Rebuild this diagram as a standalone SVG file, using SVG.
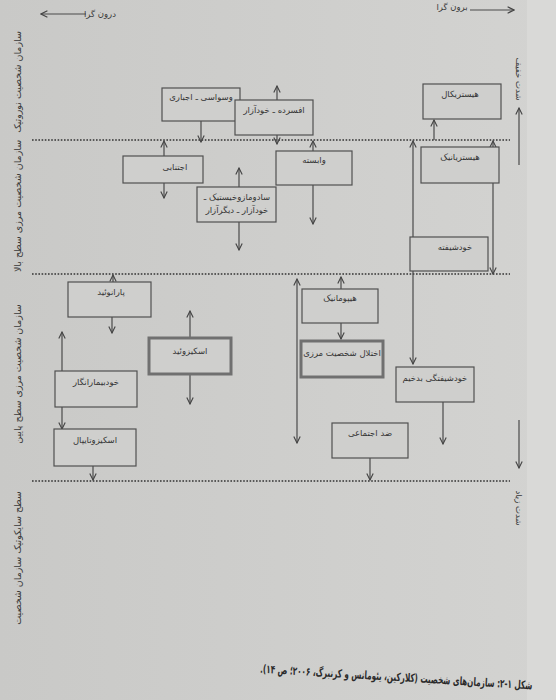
<svg xmlns="http://www.w3.org/2000/svg" width="556" height="700" viewBox="0 0 556 700">
<defs>
<linearGradient id="bg" x1="0" y1="0" x2="1" y2="0">
<stop offset="0" stop-color="#c9c9c7"/>
<stop offset="1" stop-color="#d3d3d1"/>
</linearGradient>
<marker id="ah" viewBox="0 0 10 10" refX="9" refY="5" markerWidth="8" markerHeight="8" markerUnits="userSpaceOnUse" orient="auto-start-reverse">
<path d="M1,1 L9,5 L1,9" fill="none" stroke="#444" stroke-width="1.4"/>
</marker>
<style>
.bx{fill:#cfcfcd;stroke:#505050;stroke-width:1.2}
.thk{fill:#cfcfcd;stroke:#707070;stroke-width:3}
.t{font-family:'DejaVu Sans',sans-serif;font-size:8.5px;fill:#353535;text-anchor:middle}
.lab{font-family:'DejaVu Sans',sans-serif;font-size:8.5px;fill:#3a3a3a;text-anchor:middle}
.vl{font-family:'DejaVu Sans',sans-serif;font-size:9.5px;fill:#3a3a3a;text-anchor:middle}
.ar{stroke:#4a4a4a;stroke-width:1.2;fill:none;marker-end:url(#ah)}
.dot{stroke:#333;stroke-width:1.6;stroke-dasharray:1.6 1.6;fill:none}
</style>
</defs>
<rect x="0" y="0" width="556" height="700" fill="url(#bg)"/>
<rect x="527" y="0" width="29" height="700" fill="#d9d9d7"/>

<g id="levels">
<line class="dot" x1="32" y1="140" x2="510" y2="140"/>
<line class="dot" x1="32" y1="274" x2="510" y2="274"/>
<line class="dot" x1="32" y1="481" x2="510" y2="481"/>
</g>

<g id="side-labels">
<text class="vl" transform="translate(21,82) rotate(-90)">سازمان شخصیت نوروتیک</text>
<text class="vl" transform="translate(21,206) rotate(-90)">سازمان شخصیت مرزی سطح بالا</text>
<text class="vl" transform="translate(21,374) rotate(-90)">سازمان شخصیت مرزی سطح پایین</text>
<text class="vl" transform="translate(21,558) rotate(-90)">سطح سایکوتیک سازمان شخصیت</text>
<text class="lab" transform="translate(516,79) rotate(90)">شدت خفیف</text>
<text class="lab" transform="translate(516,508) rotate(90)">شدت زیاد</text>
<text class="lab" x="100" y="17">درون گرا</text>
<text class="lab" x="452" y="10">برون گرا</text>
</g>

<g id="connectors">
<line class="ar" x1="86" y1="14" x2="41" y2="14"/>
<line class="ar" x1="470" y1="10" x2="514" y2="10"/>
<line class="ar" x1="519" y1="165" x2="519" y2="108"/>
<line class="ar" x1="519" y1="420" x2="519" y2="468"/>
<line class="ar" x1="201" y1="121" x2="201" y2="142"/>
<line class="ar" x1="277" y1="100" x2="277" y2="86"/>
<line class="ar" x1="277" y1="135" x2="277" y2="144"/>
<line class="ar" x1="434" y1="140" x2="434" y2="120"/>
<line class="ar" x1="164" y1="156" x2="164" y2="141"/>
<line class="ar" x1="164" y1="183" x2="164" y2="198"/>
<line class="ar" x1="313" y1="151" x2="313" y2="141"/>
<line class="ar" x1="313" y1="185" x2="313" y2="224"/>
<line class="ar" x1="239" y1="187" x2="239" y2="168"/>
<line class="ar" x1="239" y1="222" x2="239" y2="250"/>
<line class="ar" x1="493" y1="147" x2="493" y2="141"/>
<line class="ar" x1="493" y1="183" x2="493" y2="274"/>
<line class="ar" x1="413" y1="240" x2="413" y2="141"/>
<line class="ar" x1="413" y1="270" x2="413" y2="364"/>
<line class="ar" x1="113" y1="282" x2="113" y2="275"/>
<line class="ar" x1="112" y1="317" x2="112" y2="333"/>
<line class="ar" x1="62" y1="371" x2="62" y2="332"/>
<line class="ar" x1="62" y1="407" x2="62" y2="429"/>
<line class="ar" x1="93" y1="466" x2="93" y2="480"/>
<line class="ar" x1="190" y1="338" x2="190" y2="311"/>
<line class="ar" x1="190" y1="374" x2="190" y2="404"/>
<line class="ar" x1="297" y1="443" x2="297" y2="279" style="marker-start:url(#ah)"/>
<line class="ar" x1="341" y1="289" x2="341" y2="277"/>
<line class="ar" x1="341" y1="323" x2="341" y2="339"/>
<line class="ar" x1="443" y1="402" x2="443" y2="444"/>
<line class="ar" x1="370" y1="458" x2="370" y2="480"/>
</g>

<g id="n-ocd"><rect class="bx" x="162" y="88" width="78" height="33"/><text class="t" x="201" y="100">وسواسی ـ اجباری</text></g>
<g id="n-depmas"><rect class="bx" x="235" y="100" width="78" height="35"/><text class="t" x="274" y="113">افسرده ـ خودآزار</text></g>
<g id="n-hysterical"><rect class="bx" x="423" y="84" width="78" height="35"/><text class="t" x="460" y="97">هیستریکال</text></g>
<g id="n-avoidant"><rect class="bx" x="123" y="156" width="80" height="27"/><text class="t" x="175" y="170">اجتنابی</text></g>
<g id="n-dependent"><rect class="bx" x="276" y="151" width="76" height="34"/><text class="t" x="314" y="163">وابسته</text></g>
<g id="n-sadomaso"><rect class="bx" x="197" y="187" width="79" height="35"/><text class="t" x="237" y="200">سادومازوخیستیک ـ</text><text class="t" x="237" y="213">خودآزار ـ دیگرآزار</text></g>
<g id="n-histrionic"><rect class="bx" x="421" y="147" width="78" height="36"/><text class="t" x="460" y="160">هیستریانیک</text></g>
<g id="n-narcissistic"><rect class="bx" x="410" y="237" width="78" height="34"/><text class="t" x="455" y="250">خودشیفته</text></g>
<g id="n-paranoid"><rect class="bx" x="68" y="282" width="83" height="35"/><text class="t" x="111" y="295">پارانوئید</text></g>
<g id="n-hypochondriac"><rect class="bx" x="55" y="371" width="82" height="36"/><text class="t" x="96" y="385">خودبیمارانگار</text></g>
<g id="n-schizotypal"><rect class="bx" x="54" y="429" width="82" height="37"/><text class="t" x="95" y="443">اسکیزوتایپال</text></g>
<g id="n-schizoid"><rect class="thk" x="149" y="338" width="82" height="36"/><text class="t" x="190" y="354">اسکیزوئید</text></g>
<g id="n-hypomanic"><rect class="bx" x="302" y="289" width="76" height="34"/><text class="t" x="340" y="301">هیپومانیک</text></g>
<g id="n-borderline"><rect class="thk" x="301" y="341" width="82" height="36"/><text class="t" x="342" y="356">اختلال شخصیت مرزی</text></g>
<g id="n-malignant"><rect class="bx" x="396" y="367" width="78" height="35"/><text class="t" x="435" y="381">خودشیفتگی بدخیم</text></g>
<g id="n-antisocial"><rect class="bx" x="332" y="423" width="76" height="35"/><text class="t" x="370" y="436">ضد اجتماعی</text></g>

<g id="caption">
<text transform="translate(396,681) rotate(3.5) scale(0.63,1)" x="0" y="0" direction="rtl" text-anchor="middle" font-family="'DejaVu Sans',sans-serif" font-weight="bold" font-size="11.5" fill="#2a2a2a">شکل ۱-۲: سازمان‌های شخصیت (کلارکین، یئومانس و کرنبرگ، ۲۰۰۶؛ ص ۱۴).</text>
</g>
</svg>
